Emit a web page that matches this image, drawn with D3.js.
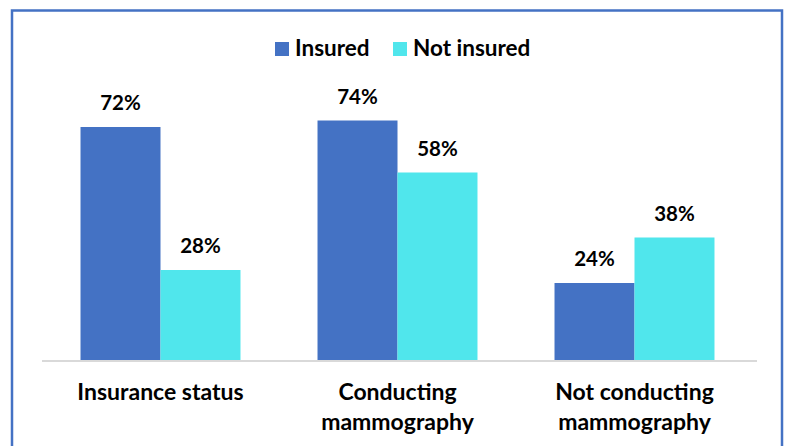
<!DOCTYPE html>
<html>
<head>
<meta charset="utf-8">
<script src="https://cdn.jsdelivr.net/npm/d3@7"></script>
<style>
  html, body { margin: 0; padding: 0; background: #fff; }
  svg { display: block; }
  text { font-family: Lato, "Open Sans", sans-serif; font-weight: 700; fill: #000; }
</style>
</head>
<body>
<svg id="chart" width="788" height="446"></svg>
<script>
// Share of women by group, insured vs. not insured (percent)
const categories = [["Insurance status"], ["Conducting", "mammography"], ["Not conducting", "mammography"]];
const seriesNames = ["Insured", "Not insured"];
const insured = [72, 74, 24];
const notInsured = [28, 58, 38];
const colors = ["#4472C4", "#50E6EC"];

const svg = d3.select("#chart");

// Outer frame
svg.append("rect")
  .attr("x", 12).attr("y", 10.5)
  .attr("width", 770).attr("height", 460)
  .attr("fill", "none")
  .attr("stroke", "#4472C4")
  .attr("stroke-width", 2.5);

const plot = { left: 42, right: 753, top: 36, bottom: 361 };

const x0 = d3.scaleBand()
  .domain(d3.range(categories.length))
  .range([plot.left, plot.right])
  .paddingInner(0.325)
  .paddingOuter(0.1625);

const x1 = d3.scaleBand()
  .domain(d3.range(seriesNames.length))
  .range([0, x0.bandwidth()]);

const y = d3.scaleLinear().domain([0, 100]).range([plot.bottom, plot.top]);

const rows = categories.map((c, i) => ({ i, values: [insured[i], notInsured[i]] }));

const groups = svg.append("g").selectAll("g")
  .data(rows).join("g")
  .attr("transform", d => `translate(${x0(d.i)},0)`);

groups.selectAll("rect")
  .data(d => d.values.map((v, s) => ({ v, s })))
  .join("rect")
  .attr("x", d => x1(d.s))
  .attr("y", d => y(d.v))
  .attr("width", x1.bandwidth())
  .attr("height", d => y(0) - y(d.v))
  .attr("fill", d => colors[d.s]);

groups.selectAll("text.val")
  .data(d => d.values.map((v, s) => ({ v, s })))
  .join("text")
  .attr("class", "val")
  .attr("x", d => x1(d.s) + x1.bandwidth() / 2)
  .attr("y", d => y(d.v) - 17)
  .attr("text-anchor", "middle")
  .style("font-size", "20.5px")
  .text(d => d.v + "%");

// Category axis
const xAxis = svg.append("g")
  .attr("transform", `translate(0,${plot.bottom})`)
  .call(d3.axisBottom(x0).tickSize(0).tickFormat(""));
xAxis.select(".domain")
  .attr("d", `M${plot.left},0H${plot.right + 4}`)
  .attr("stroke", "#D9D9D9")
  .attr("stroke-width", 2);

const catLabels = svg.append("g").selectAll("text")
  .data(categories.map((lines, i) => ({ lines, i })))
  .join("text")
  .attr("text-anchor", "middle")
  .style("font-size", "23px")
  .attr("transform", d => `translate(${x0(d.i) + x0.bandwidth() / 2},400)`);
catLabels.selectAll("tspan")
  .data(d => d.lines)
  .join("tspan")
  .attr("x", 0)
  .attr("y", (d, k) => k * 30)
  .text(d => d);

// Legend
const legendItems = [
  { name: seriesNames[0], color: colors[0], x: 275 },
  { name: seriesNames[1], color: colors[1], x: 393 }
];
const legend = svg.append("g").selectAll("g")
  .data(legendItems).join("g")
  .attr("transform", d => `translate(${d.x},42)`);
legend.append("rect")
  .attr("width", 14).attr("height", 14)
  .attr("fill", d => d.color);
legend.append("text")
  .attr("x", 20).attr("y", 13.5)
  .style("font-size", "22.5px")
  .text(d => d.name);
</script>
</body>
</html>
